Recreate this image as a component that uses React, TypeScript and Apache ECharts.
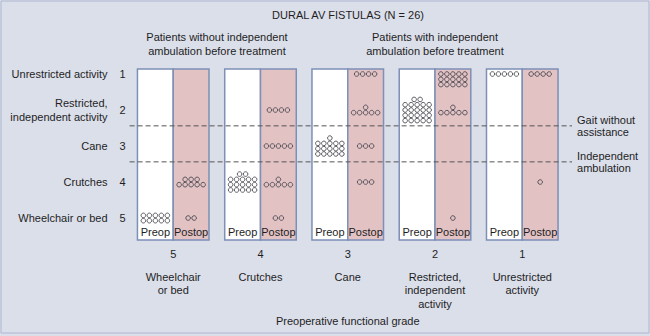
import React, { useEffect, useRef } from 'react';
import * as echarts from 'echarts';

// ---- data ----
const mainTitle = 'DURAL AV FISTULAS (N = 26)';
const groupTitles = [
  'Patients without independent\nambulation before treatment',
  'Patients with independent\nambulation before treatment',
];
const rowNumbers = ['1', '2', '3', '4', '5'];
const rowNames = [
  'Unrestricted activity',
  'Restricted,\nindependent activity',
  'Cane',
  'Crutches',
  'Wheelchair or bed',
];
const panelGrades = [5, 4, 3, 2, 1];
const panelNames = [
  'Wheelchair\nor bed',
  'Crutches',
  'Cane',
  'Restricted,\nindependent\nactivity',
  'Unrestricted\nactivity',
];
const phaseNames = ['Preop', 'Postop'];
// patients per panel before treatment (all at the panel's own grade)
const preopCounts = [10, 17, 16, 22, 5];
// patients per panel after treatment, by grade 1..5
const postopCounts = [
  [0, 0, 0, 8, 2],
  [0, 4, 5, 6, 2],
  [4, 6, 3, 3, 0],
  [15, 6, 0, 0, 1],
  [4, 0, 0, 1, 0],
];
const thresholds = [2.44, 3.44];
const thresholdNames = ['Gait without\nassistance', 'Independent\nambulation'];
const xAxisTitle = 'Preoperative functional grade';

// ---- styling / layout constants ----
const FONT = '"Liberation Sans", Arial, Helvetica, sans-serif';
const TEXT = '#1e1e1e';
const BG = '#dbdfea';
const BORDER = '#7d90b6';
const PINK = '#e3c2c4';
const DOT = '#4a4a52';
const PANEL_TOP = 0.86;
const PANEL_BOTTOM = 5.61;
const PHASE_LABEL_Y = 5.39;
const LINE_END_X = 5.07;
const DOT_PX = 6;
const DOT_PY = 5.3;
const DOT_R = 2.3;

export default function App() {
  const ref = useRef<HTMLDivElement>(null);

  useEffect(() => {
    if (!ref.current) return;
    const chart = echarts.init(ref.current, undefined, { renderer: 'svg' });

    const dotData: number[][] = [];
    panelGrades.forEach((g, p) => {
      dotData.push([p, 0, g, preopCounts[p]]);
      postopCounts[p].forEach((n, gi) => {
        if (n > 0) dotData.push([p, 1, gi + 1, n]);
      });
    });

    const titleStyle = { fontSize: 11, fontWeight: 'normal', color: TEXT, fontFamily: FONT, lineHeight: 14 };

    const option: any = {
      animation: false,
      backgroundColor: BG,
      textStyle: { fontFamily: FONT, color: TEXT },
      title: [
        { text: mainTitle, left: 348, top: 8, textAlign: 'center', padding: 0, textStyle: titleStyle },
        { text: groupTitles[0], left: 217, top: 30, textAlign: 'center', padding: 0, textStyle: titleStyle },
        { text: groupTitles[1], left: 435, top: 30, textAlign: 'center', padding: 0, textStyle: titleStyle },
      ],
      graphic: [
        {
          type: 'rect',
          shape: { x: 1, y: 1, width: 648, height: 332 },
          style: { fill: 'none', stroke: '#aeb7d1', lineWidth: 1 },
          silent: true,
        },
      ],
      grid: { left: 129.6, right: 84.1, top: 38, bottom: 96 },
      xAxis: [
        {
          type: 'value',
          min: 0,
          max: 5,
          interval: 0.5,
          axisLine: { show: false },
          axisTick: { show: false },
          splitLine: { show: false },
          axisLabel: {
            margin: 8,
            fontSize: 11,
            color: TEXT,
            fontFamily: FONT,
            formatter: (v: number) => {
              const i = Math.floor(v);
              return Math.abs(v - i - 0.5) < 1e-6 && i < panelGrades.length ? String(panelGrades[i]) : '';
            },
          },
        },
        {
          type: 'value',
          position: 'bottom',
          offset: 22,
          min: 0,
          max: 5,
          interval: 0.5,
          axisLine: { show: false },
          axisTick: { show: false },
          splitLine: { show: false },
          name: xAxisTitle,
          nameLocation: 'middle',
          nameGap: 53,
          nameTextStyle: { fontSize: 11, color: TEXT, fontFamily: FONT },
          axisLabel: {
            margin: 8,
            fontSize: 11,
            lineHeight: 13.5,
            color: TEXT,
            fontFamily: FONT,
            formatter: (v: number) => {
              const i = Math.floor(v);
              return Math.abs(v - i - 0.5) < 1e-6 && i < panelNames.length ? panelNames[i] : '';
            },
          },
        },
      ],
      yAxis: [
        {
          type: 'value',
          inverse: true,
          min: 0,
          max: PANEL_BOTTOM,
          interval: 1,
          axisLine: { show: false },
          axisTick: { show: false },
          splitLine: { show: false },
          axisLabel: {
            margin: 4,
            fontSize: 11,
            color: TEXT,
            fontFamily: FONT,
            formatter: (v: number) =>
              Number.isInteger(v) && v >= 1 && v <= rowNumbers.length ? rowNumbers[v - 1] : '',
          },
        },
        {
          type: 'value',
          inverse: true,
          position: 'left',
          offset: 14,
          min: 0,
          max: PANEL_BOTTOM,
          interval: 1,
          axisLine: { show: false },
          axisTick: { show: false },
          splitLine: { show: false },
          axisLabel: {
            margin: 8,
            fontSize: 11,
            lineHeight: 14,
            color: TEXT,
            fontFamily: FONT,
            align: 'right',
            formatter: (v: number) =>
              Number.isInteger(v) && v >= 1 && v <= rowNames.length ? rowNames[v - 1] : '',
          },
        },
      ],
      series: [
        {
          type: 'custom',
          name: 'panels',
          coordinateSystem: 'cartesian2d',
          xAxisIndex: 0,
          yAxisIndex: 0,
          z: 1,
          encode: { x: 0, y: 1 },
          data: panelGrades.map((_, i) => [i, 3]),
          renderItem: (_params: any, api: any) => {
            const i = api.value(0);
            const [x0, y0] = api.coord([i + 0.09, PANEL_TOP]);
            const [xm] = api.coord([i + 0.5, PANEL_TOP]);
            const [x1, y1] = api.coord([i + 0.91, PANEL_BOTTOM]);
            const [, ty] = api.coord([i + 0.5, PHASE_LABEL_Y]);
            const label = (t: string, x: number) => ({
              type: 'text',
              x,
              y: ty,
              style: {
                text: t,
                align: 'center',
                verticalAlign: 'middle',
                fill: TEXT,
                fontSize: 11,
                fontFamily: FONT,
              },
            });
            return {
              type: 'group',
              children: [
                {
                  type: 'rect',
                  shape: { x: x0, y: y0, width: xm - x0, height: y1 - y0 },
                  style: { fill: '#ffffff', stroke: BORDER, lineWidth: 1.5 },
                },
                {
                  type: 'rect',
                  shape: { x: xm, y: y0, width: x1 - xm, height: y1 - y0 },
                  style: { fill: PINK, stroke: BORDER, lineWidth: 1.5 },
                },
                label(phaseNames[0], (x0 + xm) / 2),
                label(phaseNames[1], (xm + x1) / 2),
              ],
            };
          },
        },
        {
          type: 'custom',
          name: 'patients',
          coordinateSystem: 'cartesian2d',
          xAxisIndex: 0,
          yAxisIndex: 0,
          z: 3,
          encode: { x: 0, y: 2 },
          data: dotData,
          renderItem: (_params: any, api: any) => {
            const p = api.value(0);
            const ph = api.value(1);
            const g = api.value(2);
            const n = api.value(3);
            const [cx, cy] = api.coord([p + 0.5 + (ph ? 0.205 : -0.205), g]);
            const [, topLimit] = api.coord([p, 1]);
            const rows: number[] = [];
            const rem = n % 5;
            if (rem) rows.push(rem);
            for (let k = 0; k < Math.floor(n / 5); k++) rows.push(5);
            let y = cy - ((rows.length - 1) * DOT_PY) / 2;
            if (y < topLimit) y = topLimit;
            const children: any[] = [];
            rows.forEach((k, r) => {
              for (let j = 0; j < k; j++) {
                children.push({
                  type: 'circle',
                  shape: { cx: cx + (j - (k - 1) / 2) * DOT_PX, cy: y + r * DOT_PY, r: DOT_R },
                  style: { fill: 'none', stroke: DOT, lineWidth: 0.9 },
                });
              }
            });
            return { type: 'group', children };
          },
        },
        {
          type: 'custom',
          name: 'thresholds',
          coordinateSystem: 'cartesian2d',
          xAxisIndex: 0,
          yAxisIndex: 0,
          z: 4,
          encode: { x: 0, y: 1 },
          data: thresholds.map((t, i) => [0, t, i]),
          renderItem: (_params: any, api: any) => {
            const t = api.value(1);
            const i = api.value(2);
            const [xa, ya] = api.coord([0, t]);
            const [xb] = api.coord([LINE_END_X, t]);
            return {
              type: 'group',
              children: [
                {
                  type: 'line',
                  shape: { x1: xa, y1: ya, x2: xb, y2: ya },
                  style: { stroke: '#555', lineWidth: 1, lineDash: [5, 3] },
                },
                {
                  type: 'text',
                  x: xb + 5,
                  y: ya,
                  style: {
                    text: thresholdNames[i],
                    align: 'left',
                    verticalAlign: 'middle',
                    fill: TEXT,
                    fontSize: 11,
                    lineHeight: 12.5,
                    fontFamily: FONT,
                  },
                },
              ],
            };
          },
        },
      ],
    };

    chart.setOption(option);
    return () => chart.dispose();
  }, []);

  return (
    <div
      ref={ref}
      style={{ position: 'fixed', left: 0, top: 0, width: 650, height: 336 }}
    />
  );
}
